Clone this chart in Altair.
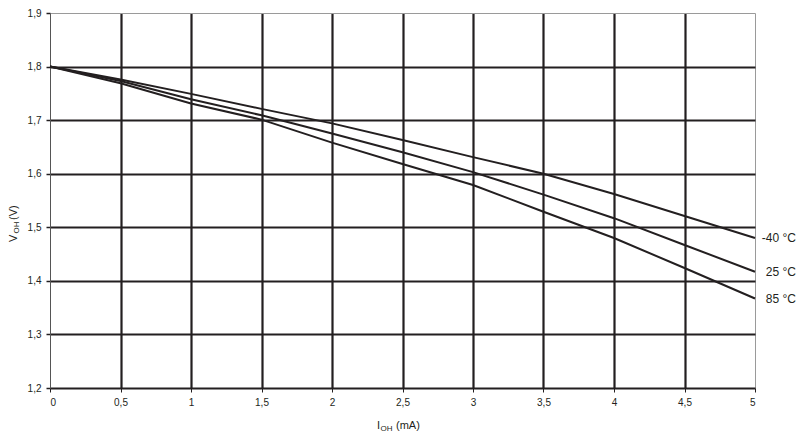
import altair as alt
import pandas as pd

# ---- data ----
i_oh = [0, 0.5, 1, 1.5, 2, 2.5, 3, 3.5, 4, 4.5, 5]
v_m40 = [1.800, 1.776, 1.749, 1.721, 1.694, 1.663, 1.631, 1.600, 1.562, 1.521, 1.480]
v_25 = [1.800, 1.773, 1.739, 1.709, 1.675, 1.640, 1.603, 1.561, 1.517, 1.467, 1.417]
v_85 = [1.800, 1.769, 1.731, 1.701, 1.658, 1.618, 1.579, 1.529, 1.480, 1.424, 1.367]
series_labels = ["-40 °C", "25 °C", "85 °C"]
x_ticks = [0, 0.5, 1, 1.5, 2, 2.5, 3, 3.5, 4, 4.5, 5]
y_ticks = [1.2, 1.3, 1.4, 1.5, 1.6, 1.7, 1.8, 1.9]
x_title_main = "I"
x_title_sub = "OH"
x_title_unit = "(mA)"
y_title_main = "V"
y_title_sub = "OH"
y_title_unit = "(V)"

rows = []
for lab, vals in zip(series_labels, [v_m40, v_25, v_85]):
    for x, v in zip(i_oh, vals):
        rows.append({"I": x, "V": v, "T": lab})
df = pd.DataFrame(rows)
end_df = df[df["I"] == i_oh[-1]]

FONT = "Liberation Sans"
INK = "#231f20"
EDGE = "#9a9a9a"

x_scale = alt.Scale(domain=[x_ticks[0], x_ticks[-1]], nice=False)
y_scale = alt.Scale(domain=[y_ticks[0], y_ticks[-1]], nice=False)

x_axis = alt.Axis(
    values=x_ticks,
    title=None,
    labelExpr="replace(format(datum.value, '~g'), '.', ',')",
    grid=True,
    gridColor={"condition": {"test": "datum.value == 5 || datum.value == 0", "value": EDGE}, "value": INK},
    gridWidth={"condition": {"test": "datum.value == 5 || datum.value == 0", "value": 1}, "value": 2.2},
    domain=False,
    ticks=True,
    tickSize=4,
    tickColor=INK,
    tickWidth=1,
    labelPadding=5,
    labelFont=FONT,
    labelFontSize=10,
    labelColor=INK,
)
y_axis = alt.Axis(
    values=y_ticks,
    title=None,
    labelExpr="replace(format(datum.value, '.1f'), '.', ',')",
    grid=True,
    gridColor={"condition": {"test": "datum.value == 1.9", "value": EDGE}, "value": INK},
    gridWidth={"condition": {"test": "datum.value == 1.9", "value": 1}, "value": 2.2},
    domain=True,
    domainColor="#555555",
    domainWidth=1,
    ticks=True,
    tickSize=4,
    tickColor=INK,
    tickWidth=1.5,
    labelPadding=5,
    labelFont=FONT,
    labelFontSize=10,
    labelColor=INK,
)

base = alt.Chart(df)
lines = base.mark_line(color=INK, strokeWidth=2).encode(
    x=alt.X("I:Q", scale=x_scale, axis=x_axis),
    y=alt.Y("V:Q", scale=y_scale, axis=y_axis),
    detail="T:N",
)
labels = alt.Chart(end_df).mark_text(
    align="right", baseline="middle", dx=41, font=FONT, fontSize=12, color=INK
).encode(
    x=alt.X("I:Q", scale=x_scale),
    y=alt.Y("V:Q", scale=y_scale),
    text="T:N",
)

one = pd.DataFrame({"k": [0]})
def txt(text, x, y, size, angle=0):
    return alt.Chart(one).mark_text(
        text=text, align="left", baseline="alphabetic", font=FONT,
        fontSize=size, color=INK, angle=angle
    ).encode(x=alt.value(x), y=alt.value(y))

titles = [
    txt(x_title_main, 327, 416, 11),
    txt(x_title_sub, 330.5, 418, 8),
    txt(x_title_unit, 346, 416, 11),
    txt(y_title_main, -33, 229, 11, 270),
    txt(y_title_sub, -31, 220.5, 8, 270),
    txt(y_title_unit, -33, 207, 11, 270),
]

chart = alt.layer(lines, labels, *titles).properties(
    width=705,
    height=375,
    padding={"left": 42, "top": 5, "right": 42, "bottom": 46},
    autosize=alt.AutoSizeParams(type="none"),
).configure_view(strokeOpacity=0)

chart.save("out.html", embed_options={"renderer": "svg", "actions": False})
